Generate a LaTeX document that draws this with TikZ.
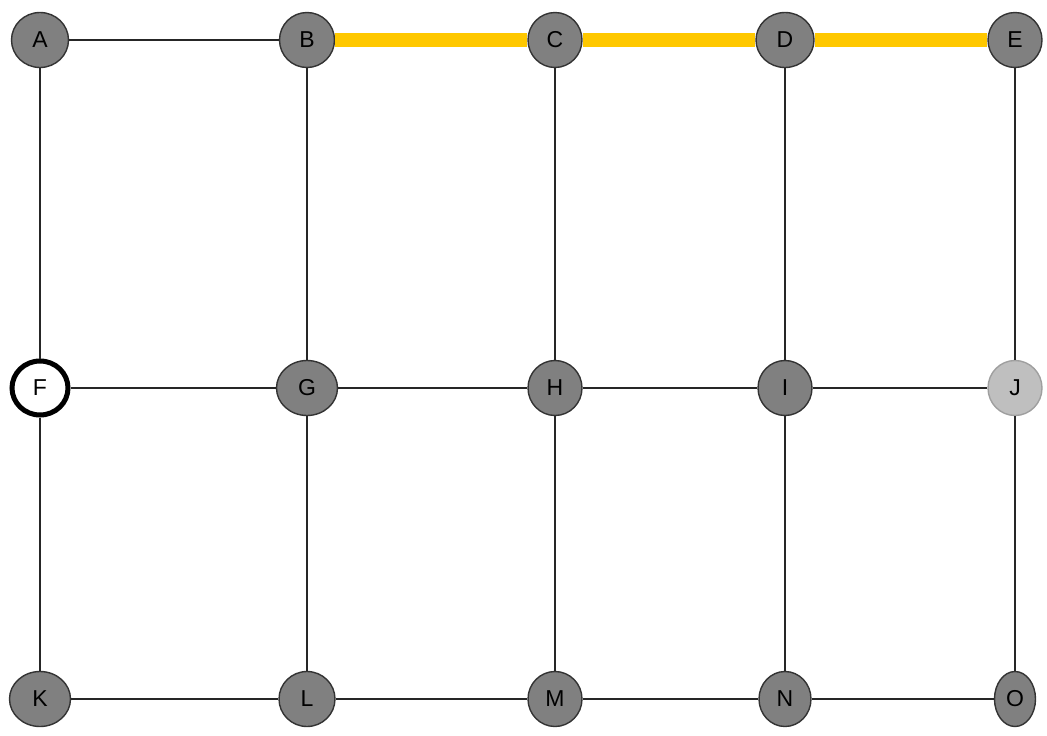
\documentclass[tikz,border=0pt]{standalone}
\usepackage{fontspec}
\setmainfont{Liberation Sans}
\usetikzlibrary{shapes.geometric}
\definecolor{vertexgray}{RGB}{128,128,128}
\definecolor{routeyellow}{RGB}{255,200,0}

\begin{document}
\begin{tikzpicture}[x=1pt, y=-1pt,
  vertex/.style={ellipse, draw=black!80, line width=1.4pt, fill=vertexgray,
    inner sep=0pt, minimum height=55pt, font=\fontsize{23}{23}\selectfont},
  edge/.style={line width=1.3pt, black!85},
  route/.style={line width=14pt, routeyellow}]
  \fill[white] (0,0) rectangle (1047,736);
  \useasboundingbox (0,0) rectangle (1047,736);

  % grid vertices
  \foreach \n/\x/\y/\w in {A/40/40/57, B/307/40/55, C/555/40/54, D/785/40/58, E/1015/40/54,
                          G/307/388/61, H/555/388/54, I/785/388/54,
                          K/40/699/61, L/307/699/56, M/555/699/54, N/785/699/52, O/1015/699/41} {
    \node[vertex, minimum width=\w pt] (\n) at (\x,\y) {\n};
  }
  \node[vertex, fill=white, draw=black, line width=5pt, minimum width=56pt, minimum height=54pt] (F) at (40,388) {F};
  \node[vertex, fill=gray!50, draw=gray!75, minimum width=54pt] (J) at (1015,388) {J};

  % connections
  \foreach \a/\b in {A/B, F/G, G/H, H/I, I/J, K/L, L/M, M/N, N/O,
                     A/F, F/K, B/G, G/L, C/H, H/M, D/I, I/N, E/J, J/O} {
    \draw[edge] (\a) -- (\b);
  }
  % highlighted route
  \foreach \a/\b in {B/C, C/D, D/E} {
    \draw[route] (\a) -- (\b);
  }
\end{tikzpicture}
\end{document}
